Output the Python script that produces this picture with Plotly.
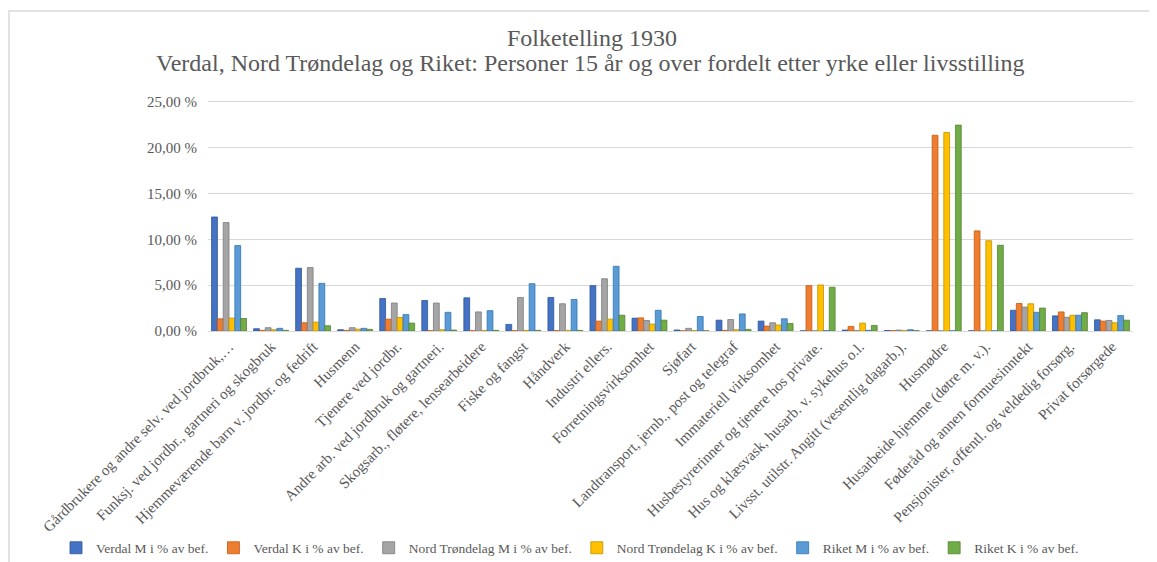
import plotly.graph_objects as go

categories = [
    "Gårdbrukere og andre selv. ved jordbruk,…",
    "Funksj. ved jordbr., gartneri og skogbruk",
    "Hjemmeværende barn v. jordbr. og fedrift",
    "Husmenn",
    "Tjenere ved jordbr.",
    "Andre arb. ved jordbruk og gartneri.",
    "Skogsarb., fløtere, lensearbeidere",
    "Fiske og fangst",
    "Håndverk",
    "Industri ellers.",
    "Forretningsvirksomhet",
    "Sjøfart",
    "Landtransport, jernb., post og telegraf",
    "Immateriell virksomhet",
    "Husbestyrerinner og tjenere hos private.",
    "Hus og klæsvask, husarb. v. sykehus o.l.",
    "Livsst. utilstr. Angitt (vesentlig dagarb.).",
    "Husmødre",
    "Husarbeide hjemme (døtre m. v.).",
    "Føderåd og annen formuesinntekt",
    "Pensjonister, offentl. og veldedig forsørg.",
    "Privat forsørgede",
]

verdal_m = [12.44, 0.25, 6.85, 0.14, 3.55, 3.33, 3.62, 0.72, 3.66, 4.95, 1.40,
            0.11, 1.18, 1.08, 0.02, 0.10, 0.05, 0.02, 0.02, 2.26, 1.65, 1.22]
verdal_k = [1.33, 0.07, 0.90, 0.07, 1.29, 0.04, 0.04, 0.04, 0.04, 1.08, 1.43,
            0.02, 0.07, 0.54, 4.95, 0.50, 0.04, 21.35, 10.92, 3.00, 2.08, 1.08]
nt_m = [11.83, 0.36, 6.92, 0.36, 3.05, 3.05, 2.08, 3.66, 2.97, 5.70, 1.15,
        0.29, 1.25, 0.90, 0.02, 0.04, 0.10, 0.02, 0.02, 2.61, 1.50, 1.15]
nt_k = [1.40, 0.14, 0.97, 0.20, 1.47, 0.14, 0.07, 0.07, 0.07, 1.29, 0.75,
        0.04, 0.14, 0.65, 5.02, 0.86, 0.05, 21.65, 9.85, 2.97, 1.72, 0.90]
riket_m = [9.32, 0.29, 5.20, 0.29, 1.79, 2.04, 2.22, 5.16, 3.44, 7.06, 2.26,
           1.58, 1.86, 1.33, 0.04, 0.07, 0.14, 0.02, 0.02, 2.04, 1.72, 1.68]
riket_k = [1.36, 0.07, 0.57, 0.18, 0.86, 0.10, 0.07, 0.07, 0.07, 1.72, 1.18,
           0.02, 0.18, 0.82, 4.77, 0.61, 0.04, 22.46, 9.35, 2.50, 2.00, 1.18]

y_ticks = [0, 5, 10, 15, 20, 25]
y_ticktext = ["0,00 %", "5,00 %", "10,00 %", "15,00 %", "20,00 %", "25,00 %"]

series = [
    ("Verdal M i % av bef.", verdal_m, "#4472C4", "#2F5597"),
    ("Verdal K i % av bef.", verdal_k, "#ED7D31", "#C55A11"),
    ("Nord Trøndelag M i % av bef.", nt_m, "#A5A5A5", "#7B7B7B"),
    ("Nord Trøndelag K i % av bef.", nt_k, "#FFC000", "#BF9000"),
    ("Riket M i % av bef.", riket_m, "#5B9BD5", "#2E75B6"),
    ("Riket K i % av bef.", riket_k, "#70AD47", "#548235"),
]

fig = go.Figure()
for name, vals, col, edge in series:
    fig.add_trace(go.Bar(x=categories, y=vals, name=name,
                         marker=dict(color=col, line=dict(color=edge, width=0.8))))

# page body has an 8px margin, so work in screen pixels and shift
OFF = 8
W, H = 1157 - OFF, 562 - OFF
L, R, T, B = 208 - OFF, 1157 - 1133, 100 - OFF, 562 - 331
pw, ph = W - L - R, H - T - B

def px_x(x):
    return (x - OFF - L) / pw

def px_y(y):
    return (H - B - (y - OFF)) / ph

serif = "Liberation Serif"
fig.update_layout(
    width=W, height=H,
    margin=dict(l=L, r=R, t=T, b=B, autoexpand=False),
    paper_bgcolor="white", plot_bgcolor="white",
    font=dict(family=serif, color="#595959", size=14),
    barmode="group", bargap=0.17, bargroupgap=0.0,
    annotations=[
        dict(text="Folketelling 1930",
             xref="paper", yref="paper", x=px_x(592), y=px_y(38),
             xanchor="center", yanchor="middle", showarrow=False,
             font=dict(family=serif, size=24, color="#595959")),
        dict(text="Verdal, Nord Trøndelag og Riket: Personer 15 år og over fordelt etter yrke eller livsstilling",
             xref="paper", yref="paper", x=px_x(590), y=px_y(63),
             xanchor="center", yanchor="middle", showarrow=False,
             font=dict(family=serif, size=24, color="#595959")),
    ],
    showlegend=True,
    legend=dict(orientation="h", x=px_x(56), xanchor="left",
                y=px_y(548), yanchor="middle",
                font=dict(family=serif, size=13.5, color="#595959"),
                itemwidth=30, traceorder="normal", tracegroupgap=0),
    shapes=[dict(type="rect", xref="paper", yref="paper",
                 x0=px_x(9), x1=px_x(1175), y0=px_y(580), y1=px_y(11),
                 line=dict(color="#d9d9d9", width=1.5), fillcolor="rgba(0,0,0,0)",
                 layer="below")],
)

fig.update_yaxes(range=[0, 25.2], tickvals=y_ticks, ticktext=y_ticktext,
                 showgrid=True, gridcolor="#d9d9d9", gridwidth=1,
                 zeroline=False, showline=False, ticks="", ticklabelstandoff=10,
                 automargin=False, tickfont=dict(size=15))
fig.update_xaxes(tickangle=-45, showline=True, linecolor="#d9d9d9", linewidth=1,
                 ticks="", automargin=False, tickfont=dict(size=15))

fig.write_html("out.html")
